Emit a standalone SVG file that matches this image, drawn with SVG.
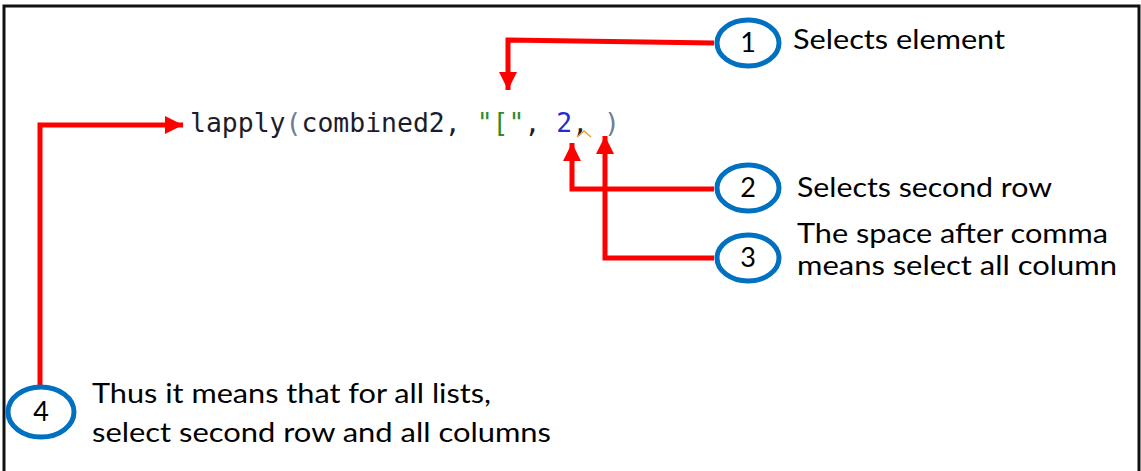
<svg xmlns="http://www.w3.org/2000/svg" width="1141" height="471" viewBox="0 0 1141 471">
  <style>
    .frame { fill: none; stroke: #111; stroke-width: 3; }
    .wire { fill: none; stroke: #ff0000; stroke-width: 5; stroke-linejoin: miter; }
    .badge { fill: #ffffff; stroke: #0070c0; stroke-width: 5; }
    .num { font-family: Lato, "Open Sans", sans-serif; font-size: 27px; fill: #000; text-anchor: middle; }
    .note { font-family: Lato, "Open Sans", sans-serif; font-size: 26px; fill: #000; }
    .code { font-family: "DejaVu Sans Mono", "Liberation Mono", monospace; font-size: 26px; fill: #1c1c2c; }
  </style>
  <defs>
    <marker id="head" markerUnits="userSpaceOnUse" markerWidth="20" markerHeight="18" refX="18" refY="9" orient="auto">
      <path d="M0,0 L18,9 L0,18 Z" fill="#ff0000"/>
    </marker>
  </defs>

  <rect width="1141" height="471" fill="#ffffff"/>
  <!-- open frame: top, left and right edges -->
  <path class="frame" d="M4,471 L4,6 L1139,6 L1139,471"/>

  <!-- R call being annotated -->
  <g id="code">
    <text class="code" x="190" y="132" textLength="430" lengthAdjust="spacingAndGlyphs"><tspan>lapply</tspan><tspan fill="#6f7d99">(</tspan><tspan>combined2, </tspan><tspan fill="#2e8b2e">"["</tspan><tspan>, </tspan><tspan fill="#2a2ad0">2</tspan><tspan>,  </tspan><tspan fill="#6f7d99">)</tspan></text>
    <path d="M577,137 L584,131 L591,137" fill="none" stroke="#e8a030" stroke-width="1.6"/>
  </g>

  <!-- connectors -->
  <g id="connectors">
    <path class="wire" marker-end="url(#head)" d="M714,43 L508,40 L508,90"/>
    <path class="wire" marker-end="url(#head)" d="M714,189 L572,189 L572,143"/>
    <path class="wire" marker-end="url(#head)" d="M714,258 L605,258 L605,136"/>
    <path class="wire" marker-end="url(#head)" d="M40,386 L40,125 L183,125"/>
  </g>

  <g id="note1">
    <ellipse class="badge" cx="748" cy="43" rx="31" ry="23"/>
    <text class="num" x="748" y="52">1</text>
    <text class="note" x="793" y="49" textLength="212" lengthAdjust="spacingAndGlyphs">Selects element</text>
  </g>

  <g id="note2">
    <ellipse class="badge" cx="748" cy="188" rx="31" ry="23"/>
    <text class="num" x="748" y="197">2</text>
    <text class="note" x="797" y="197" textLength="255" lengthAdjust="spacingAndGlyphs">Selects second row</text>
  </g>

  <g id="note3">
    <ellipse class="badge" cx="748" cy="258" rx="31" ry="23"/>
    <text class="num" x="748" y="267">3</text>
    <text class="note" x="797" y="243" textLength="311" lengthAdjust="spacingAndGlyphs">The space after comma</text>
    <text class="note" x="797" y="275" textLength="320" lengthAdjust="spacingAndGlyphs">means select all column</text>
  </g>

  <g id="note4">
    <ellipse class="badge" cx="41" cy="412" rx="33" ry="25"/>
    <text class="num" x="41" y="421">4</text>
    <text class="note" x="92" y="403" textLength="399" lengthAdjust="spacingAndGlyphs">Thus it means that for all lists,</text>
    <text class="note" x="92" y="442" textLength="459" lengthAdjust="spacingAndGlyphs">select second row and all columns</text>
  </g>
</svg>
